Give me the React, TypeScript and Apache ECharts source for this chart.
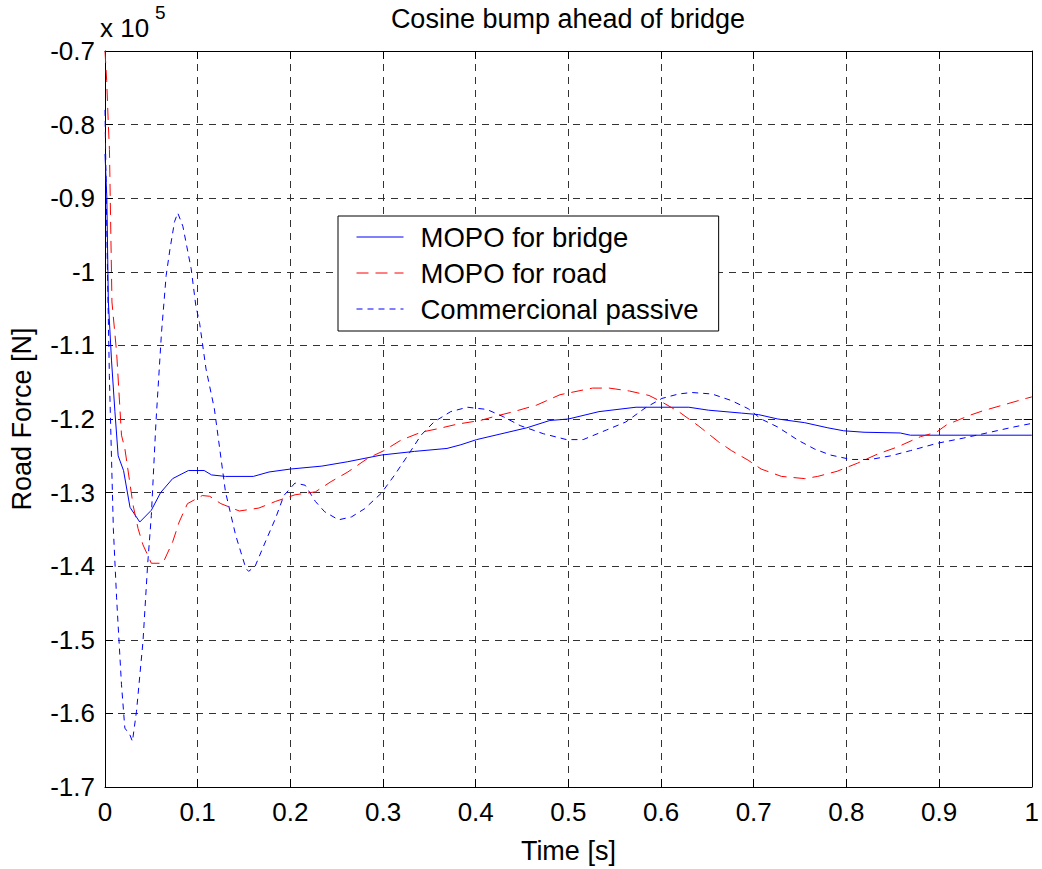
import React, { useEffect, useRef } from "react";
import * as echarts from "echarts";

const FONT = '"Liberation Sans", Arial, Helvetica, sans-serif';

const chartTitle = "Cosine bump ahead of bridge";
const xAxisName = "Time [s]";
const yAxisName = "Road Force [N]";
const seriesNames = ["MOPO for bridge", "MOPO for road", "Commercional passive"];

// Values in units of 10^5 N
const bridgeT = [0, 0.002, 0.0036, 0.007, 0.0107, 0.0142, 0.02, 0.027, 0.0375, 0.05, 0.06, 0.073, 0.09, 0.107, 0.115, 0.13, 0.16, 0.177, 0.2, 0.234, 0.262, 0.298, 0.334, 0.369, 0.384, 0.401, 0.455, 0.48, 0.5, 0.533, 0.573, 0.63, 0.651, 0.687, 0.705, 0.726, 0.755, 0.78, 0.797, 0.819, 0.858, 0.869, 1.0];
const bridgeF = [-0.84, -0.9, -1.04, -1.12, -1.19, -1.25, -1.27, -1.32, -1.34, -1.324, -1.3, -1.281, -1.27, -1.27, -1.276, -1.278, -1.278, -1.272, -1.268, -1.264, -1.258, -1.249, -1.244, -1.24, -1.235, -1.228, -1.212, -1.202, -1.2, -1.19, -1.184, -1.184, -1.188, -1.192, -1.194, -1.2, -1.205, -1.212, -1.216, -1.218, -1.219, -1.222, -1.222];

const roadT = [0, 0.0018, 0.0036, 0.0048, 0.0075, 0.0125, 0.0178, 0.0214, 0.0303, 0.0357, 0.041, 0.05, 0.0624, 0.073, 0.08, 0.089, 0.105, 0.113, 0.125, 0.145, 0.166, 0.184, 0.205, 0.227, 0.244, 0.262, 0.284, 0.301, 0.319, 0.341, 0.36, 0.38, 0.405, 0.419, 0.441, 0.466, 0.491, 0.526, 0.544, 0.566, 0.587, 0.601, 0.619, 0.64, 0.662, 0.676, 0.694, 0.708, 0.73, 0.755, 0.769, 0.79, 0.812, 0.833, 0.855, 0.88, 0.897, 0.908, 0.933, 0.947, 0.969, 0.994, 1.0];
const roadF = [-0.7, -0.74, -0.8, -0.834, -1.041, -1.109, -1.222, -1.24, -1.317, -1.349, -1.371, -1.396, -1.396, -1.367, -1.34, -1.315, -1.304, -1.305, -1.315, -1.325, -1.321, -1.312, -1.303, -1.299, -1.285, -1.272, -1.253, -1.243, -1.229, -1.218, -1.213, -1.207, -1.202, -1.197, -1.19, -1.181, -1.167, -1.158, -1.158, -1.162, -1.168, -1.177, -1.19, -1.209, -1.231, -1.243, -1.256, -1.268, -1.278, -1.281, -1.278, -1.271, -1.26, -1.248, -1.238, -1.224, -1.218, -1.208, -1.195, -1.189, -1.181, -1.172, -1.17];

const passiveT = [0, 0.002, 0.0047, 0.009, 0.0125, 0.0178, 0.0214, 0.0268, 0.0296, 0.034, 0.041, 0.046, 0.05, 0.055, 0.061, 0.066, 0.07, 0.075, 0.0785, 0.084, 0.093, 0.098, 0.102, 0.109, 0.118, 0.13, 0.141, 0.152, 0.155, 0.162, 0.173, 0.184, 0.193, 0.205, 0.216, 0.227, 0.237, 0.252, 0.266, 0.28, 0.298, 0.312, 0.327, 0.341, 0.355, 0.373, 0.391, 0.412, 0.43, 0.448, 0.473, 0.498, 0.516, 0.541, 0.562, 0.584, 0.601, 0.619, 0.633, 0.655, 0.676, 0.694, 0.708, 0.726, 0.748, 0.766, 0.783, 0.805, 0.826, 0.848, 0.869, 0.898, 0.926, 0.955, 0.98, 1.0];
const passiveF = [-0.78, -0.95, -1.141, -1.349, -1.443, -1.561, -1.62, -1.629, -1.638, -1.597, -1.502, -1.398, -1.331, -1.204, -1.082, -1.005, -0.97, -0.932, -0.92, -0.938, -0.996, -1.046, -1.069, -1.132, -1.186, -1.299, -1.358, -1.403, -1.407, -1.4, -1.367, -1.335, -1.304, -1.287, -1.29, -1.312, -1.326, -1.337, -1.333, -1.322, -1.301, -1.277, -1.249, -1.222, -1.204, -1.19, -1.184, -1.187, -1.197, -1.209, -1.22, -1.228, -1.228, -1.215, -1.204, -1.184, -1.172, -1.166, -1.164, -1.166, -1.175, -1.186, -1.2, -1.211, -1.229, -1.241, -1.249, -1.255, -1.255, -1.25, -1.243, -1.233, -1.226, -1.218, -1.211, -1.206];

const zip = (t: number[], f: number[]) => t.map((v, i) => [v, f[i]]);
const fmt = (v: number) => String(Number(v.toFixed(1)));

export default function App() {
  const ref = useRef<HTMLDivElement>(null);
  useEffect(() => {
    if (!ref.current) return;
    const chart = echarts.init(ref.current, null, { renderer: "svg" });
    const gridLine = { show: true, lineStyle: { color: "#333", width: 1, type: [7, 6] as any } };
    const axisLine = { show: true, onZero: false, lineStyle: { color: "#000", width: 1 } };
    const tick = { show: true, inside: true, length: 8, lineStyle: { color: "#000" } };
    const labelStyle = { color: "#000", fontSize: 26, fontFamily: FONT };
    chart.setOption({
      animation: false,
      backgroundColor: "#fff",
      title: {
        text: chartTitle,
        left: 568,
        top: 5,
        padding: 0,
        textAlign: "center",
        textStyle: { fontSize: 27, fontWeight: "normal", color: "#000", fontFamily: FONT },
      },
      legend: {
        orient: "vertical",
        left: 338,
        top: 216,
        padding: [7, 20, 8, 18],
        itemGap: 8,
        itemWidth: 47,
        itemHeight: 14,
        backgroundColor: "#fff",
        borderColor: "#000",
        borderWidth: 1,
        itemStyle: { opacity: 0, borderWidth: 0 },
        lineStyle: { width: 1 },
        textStyle: { fontSize: 27.5, color: "#000", fontFamily: FONT, padding: [0, 0, 0, 12] },
        data: seriesNames,
      },
      grid: { left: 101, right: 6, top: 51, bottom: 80, containLabel: false },
      xAxis: [
        {
          type: "value",
          min: 0,
          max: 1,
          interval: 0.1,
          position: "bottom",
          name: xAxisName,
          nameLocation: "middle",
          nameGap: 50,
          nameTextStyle: { fontSize: 27, color: "#000", fontFamily: FONT },
          axisLine,
          axisTick: tick,
          axisLabel: { ...labelStyle, margin: 12, formatter: fmt },
          splitLine: gridLine,
        },
        {
          type: "value",
          min: 0,
          max: 1,
          interval: 0.1,
          position: "top",
          axisLine,
          axisTick: tick,
          axisLabel: { show: false },
          splitLine: { show: false },
        },
      ],
      yAxis: [
        {
          type: "value",
          min: -1.7,
          max: -0.7,
          interval: 0.1,
          position: "left",
          name: yAxisName,
          nameLocation: "middle",
          nameRotate: 90,
          nameGap: 70,
          nameTextStyle: { fontSize: 27, color: "#000", fontFamily: FONT },
          axisLine,
          axisTick: tick,
          axisLabel: { ...labelStyle, margin: 10, formatter: fmt },
          splitLine: gridLine,
        },
        {
          type: "value",
          min: -1.7,
          max: -0.7,
          interval: 0.1,
          position: "right",
          axisLine,
          axisTick: tick,
          axisLabel: { show: false },
          splitLine: { show: false },
        },
      ],
      graphic: [
        {
          type: "text",
          left: 100,
          top: 15,
          style: { text: "x 10", fontSize: 26, fill: "#000", fontFamily: FONT },
        },
        {
          type: "text",
          left: 155,
          top: 3,
          style: { text: "5", fontSize: 19, fill: "#000", fontFamily: FONT },
        },
      ],
      series: [
        {
          name: seriesNames[0],
          type: "line",
          data: zip(bridgeT, bridgeF),
          symbol: "none",
          smooth: false,
          lineStyle: { color: "#0000ff", width: 1, type: "solid" },
          itemStyle: { color: "#0000ff" },
        },
        {
          name: seriesNames[1],
          type: "line",
          data: zip(roadT, roadF),
          symbol: "none",
          smooth: false,
          lineStyle: { color: "#ff0000", width: 1, type: [12, 7] },
          itemStyle: { color: "#ff0000" },
        },
        {
          name: seriesNames[2],
          type: "line",
          data: zip(passiveT, passiveF),
          symbol: "none",
          smooth: false,
          lineStyle: { color: "#0000ff", width: 1, type: [6, 5] },
          itemStyle: { color: "#0000ff" },
        },
      ],
    });
    return () => chart.dispose();
  }, []);
  return (
    <div
      ref={ref}
      style={{ position: "fixed", left: 0, top: 0, width: 1042, height: 869, background: "#fff" }}
    />
  );
}
